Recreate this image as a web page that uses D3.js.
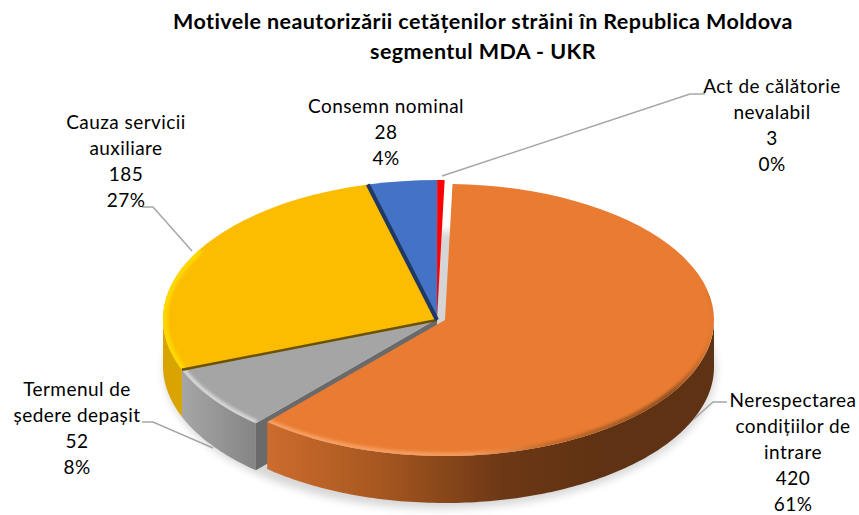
<!DOCTYPE html>
<html>
<head>
<meta charset="utf-8">
<script src="https://cdn.jsdelivr.net/npm/d3@7"></script>
<style>
  html, body { margin: 0; padding: 0; background: #fff; }
  svg { display: block; }
  text { font-family: Lato, 'Open Sans', sans-serif; fill: #000; }
</style>
</head>
<body>
<svg></svg>
<script>
// date
const categories = [
  ['Nerespectarea', 'condițiilor de', 'intrare'],
  ['Termenul de', 'ședere depașit'],
  ['Cauza servicii', 'auxiliare'],
  ['Consemn nominal'],
  ['Act de călătorie', 'nevalabil'],
];
const values = [420, 52, 185, 28, 3];
const percents = ['61%', '8%', '27%', '4%', '0%'];
const titleLines = [
  'Motivele neautorizării cetățenilor străini în Republica Moldova',
  'segmentul MDA - UKR',
];

const topColors = ['#e97c32', '#a5a5a5', '#fcbd00', '#4472c4', '#ff0000'];
const sideColors = ['url(#side-orange)', 'url(#side-gray)', '#d9a400', '#1f3864', '#a00000'];
const rimColors = ['url(#rim-orange)', '#d6d6d6', '#ffd800', '#4472c4', '#ff0000'];

const width = 859;
const height = 515;
const cx = 437;
const cy = 319;
const depth = 47;
const toRad = Math.PI / 180;

// felia portocalie e scoasa din centru si putin mai mica
const offsets = [[8, 1], [0, 0], [0, 0], [0, 0], [0, 0]];
const radiiX = [269, 274, 274, 274, 274];
const radiiY = [136, 139, 139, 139, 139];

// pozitia etichetelor si a liniilor de legatura, aceeasi ordine ca datele
const labelPos = [
  { x: 793, y: 407 },
  { x: 77, y: 396 },
  { x: 126, y: 129 },
  { x: 386, y: 113 },
  { x: 772, y: 93 },
];
const leaders = [
  [[694, 419], [713, 402], [727, 402]],
  [[213, 448], [153, 422], [142, 422]],
  [[192, 251], [153, 207], [142, 207]],
  null,
  [[442, 176], [690, 94], [705, 94]],
];

const svg = d3.select('svg').attr('width', width).attr('height', height);
const defs = svg.append('defs');

defs.append('filter').attr('id', 'blur-soft')
  .attr('x', '-20%').attr('y', '-20%').attr('width', '140%').attr('height', '140%')
  .append('feGaussianBlur').attr('stdDeviation', 4);
defs.append('filter').attr('id', 'blur-rim')
  .attr('x', '-10%').attr('y', '-10%').attr('width', '120%').attr('height', '120%')
  .append('feGaussianBlur').attr('stdDeviation', 1.6);

function hGradient(id, x1, x2, stops) {
  const g = defs.append('linearGradient').attr('id', id)
    .attr('gradientUnits', 'userSpaceOnUse')
    .attr('x1', x1).attr('x2', x2).attr('y1', 0).attr('y2', 0);
  stops.forEach((s) => g.append('stop')
    .attr('offset', s[0])
    .attr('stop-color', s[1])
    .attr('stop-opacity', s[2] === undefined ? 1 : s[2]));
}
hGradient('side-orange', 268, 600, [[0, '#cd6c2e'], [0.35, '#a5561f'], [0.7, '#6d3815'], [1, '#5f3213']]);
hGradient('side-gray', 182, 262, [[0, '#a6a6a6'], [1, '#828282']]);
hGradient('rim-orange', 268, 714, [[0, '#f8a063'], [0.45, '#f59a5c'], [0.62, '#c96c2b'], [0.9, '#8f4f20'], [1, '#8f4f20', 0]]);

const pie = d3.pie().sort(null).value((d) => d)
  .startAngle(1.6 * toRad).endAngle(361.6 * toRad);
const slices = pie(values);
const arc = d3.arc().innerRadius(0);
const line = d3.line();

// punct pe elipsa; unghiul e masurat de sus in sensul acelor de ceas
function pt(a, i, dy) {
  return [
    cx + offsets[i][0] + radiiX[i] * Math.sin(a),
    cy + offsets[i][1] - radiiY[i] * Math.cos(a) + (dy || 0),
  ];
}
function arcPoints(a0, a1, i, dy) {
  const n = Math.max(2, Math.ceil(Math.abs(a1 - a0) / (1 * toRad)));
  return d3.range(n + 1).map((k) => pt(a0 + ((a1 - a0) * k) / n, i, dy));
}
function sidePath(i) {
  const a0 = Math.max(slices[i].startAngle, 90 * toRad);
  const a1 = Math.min(slices[i].endAngle, 270 * toRad);
  return line(arcPoints(a0, a1, i, 0).concat(arcPoints(a1, a0, i, depth))) + 'Z';
}

// umbra de sub placinta
svg.append('ellipse')
  .attr('cx', cx + 3).attr('cy', cy + depth + 4)
  .attr('rx', 276).attr('ry', 139)
  .attr('fill', '#000').attr('opacity', 0.16)
  .attr('filter', 'url(#blur-soft)');

// peretii laterali, doar partea din fata
const sides = svg.append('g');
[2, 1].forEach((i) => {
  sides.append('path').attr('d', sidePath(i)).attr('fill', sideColors[i]);
});

// peretele gri vazut in spatele feliei portocalii
const grayRim = pt(slices[1].startAngle, 1, 0);
sides.append('path')
  .attr('d', line([[cx, cy], grayRim, [grayRim[0], grayRim[1] + depth], [cx, cy + depth]]) + 'Z')
  .attr('fill', '#6a6a6a');

// feliile de sus
const faces = svg.append('g');
[2, 1, 3, 4, 0].forEach((i) => {
  const s = slices[i];
  const tx = cx + offsets[i][0];
  const ty = cy + offsets[i][1];
  const t = `translate(${tx},${ty}) scale(1,${radiiY[i] / radiiX[i]})`;
  const d = arc.outerRadius(radiiX[i])(s);

  if (i === 0) {
    faces.append('path').attr('d', sidePath(0)).attr('fill', sideColors[0]);
  }

  defs.append('clipPath').attr('id', `face-${i}`)
    .append('path').attr('d', d).attr('transform', t);

  faces.append('path')
    .attr('d', d)
    .attr('transform', t)
    .attr('fill', topColors[i]);

  // marginea tesita a feliei
  const rim = faces.append('g').attr('clip-path', `url(#face-${i})`);
  const a0 = Math.max(s.startAngle, 78 * toRad);
  const a1 = Math.min(s.endAngle, 300 * toRad);
  if (a1 > a0) {
    rim.append('path')
      .attr('d', line(arcPoints(a0, a1, i, 0)))
      .attr('fill', 'none')
      .attr('stroke', rimColors[i])
      .attr('stroke-width', i === 2 ? 9 : 7)
      .attr('filter', 'url(#blur-rim)');
  }
});

// muchiile intunecate dintre felii
const edges = [
  { i: 2, a: slices[2].startAngle, color: '#6b5200', w: 2.5 },
  { i: 3, a: slices[3].startAngle, color: '#1f3864', w: 4 },
];
edges.forEach((e) => {
  faces.append('path')
    .attr('d', line([[cx, cy + 1], pt(e.a, e.i, 0)]))
    .attr('stroke', e.color)
    .attr('stroke-width', e.w)
    .attr('fill', 'none');
});

// linii de legatura
const leaderG = svg.append('g');
leaders.forEach((l) => {
  if (!l) return;
  leaderG.append('path')
    .attr('d', line(l))
    .attr('fill', 'none')
    .attr('stroke', '#a6a6a6')
    .attr('stroke-width', 1.5);
});

// etichete
const labels = svg.append('g')
  .attr('font-size', 19)
  .attr('letter-spacing', 0.45)
  .attr('text-anchor', 'middle');
categories.forEach((cat, i) => {
  const rows = cat.concat([String(values[i]), percents[i]]);
  labels.append('text')
    .selectAll('tspan')
    .data(rows)
    .enter()
    .append('tspan')
    .attr('x', labelPos[i].x)
    .attr('y', (d, k) => labelPos[i].y + k * 26)
    .text((d) => d);
});

// titlu
svg.append('g')
  .attr('font-size', 21.5)
  .attr('font-weight', 700)
  .attr('letter-spacing', 0.43)
  .attr('text-anchor', 'middle')
  .selectAll('text')
  .data(titleLines)
  .enter()
  .append('text')
  .attr('x', 483)
  .attr('y', (d, i) => 29 + i * 30)
  .text((d) => d);
</script>
</body>
</html>
